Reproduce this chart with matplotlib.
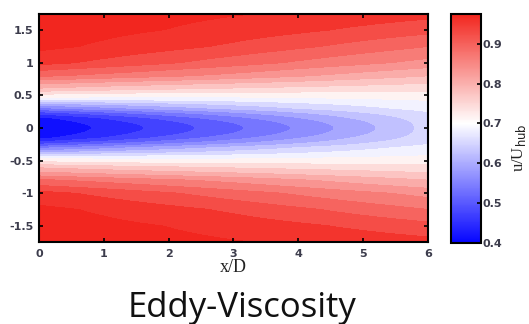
import numpy as np
import matplotlib
matplotlib.use("Agg")
import matplotlib.pyplot as plt
from matplotlib.colors import LinearSegmentedColormap

# u/U_hub: one row per x/D station, columns at |y/D| = y_read
x_read = [0, 1, 2, 3, 4, 5, 6]
y_read = [0, 0.15, 0.3, 0.45, 0.6, 0.8, 1.0, 1.25, 1.5, 1.75]
u_x0 = [0.400, 0.420, 0.540, 0.690, 0.785, 0.885, 0.950, 0.978, 0.985, 0.990]
u_x1 = [0.437, 0.460, 0.567, 0.686, 0.772, 0.870, 0.932, 0.965, 0.978, 0.985]
u_x2 = [0.474, 0.500, 0.593, 0.686, 0.762, 0.855, 0.913, 0.950, 0.969, 0.979]
u_x3 = [0.513, 0.538, 0.617, 0.690, 0.755, 0.840, 0.894, 0.934, 0.958, 0.972]
u_x4 = [0.555, 0.577, 0.640, 0.695, 0.749, 0.823, 0.875, 0.916, 0.946, 0.965]
u_x5 = [0.600, 0.617, 0.661, 0.700, 0.744, 0.806, 0.857, 0.898, 0.933, 0.958]
u_x6 = [0.650, 0.655, 0.680, 0.705, 0.740, 0.790, 0.840, 0.880, 0.920, 0.950]

table = np.array([u_x0, u_x1, u_x2, u_x3, u_x4, u_x5, u_x6])

x = np.linspace(0, 6, 400)
y = np.linspace(-1.75, 1.75, 400)
# fill the field: in y through y^2 (round ends on the centreline), then in x
prof = np.array([np.interp(y**2, np.array(y_read)**2, row) for row in table])
U = np.array([np.interp(x, x_read, prof[:, j]) for j in range(len(y))])
X, Y = np.meshgrid(x, y)

vmin, vmax = 0.4, 0.975
wpos = (0.70 - vmin) / (vmax - vmin)
cmap = LinearSegmentedColormap.from_list(
    "bwr2", [(0, (0.02, 0.02, 1)), (wpos, (1, 1, 1)), (1, (0.95, 0.15, 0.12))])

fig = plt.figure(figsize=(5.29, 3.24), dpi=100)
ax = fig.add_axes([0.0737, 0.253, 0.735, 0.704])
levels = np.arange(0.4, 0.99, 0.03)
ax.contourf(X, Y, U, levels=levels, cmap=cmap, vmin=vmin, vmax=vmax, extend="both")
ax.set_xlim(0, 6)
ax.set_ylim(-1.75, 1.75)
ax.set_xticks([0, 1, 2, 3, 4, 5, 6])
ax.set_yticks([-1.5, -1, -0.5, 0, 0.5, 1, 1.5])
ax.set_yticklabels(["-1.5", "-1", "-0.5", "0", "0.5", "1", "1.5"])
ax.tick_params(direction="in", top=True, right=True, length=3, width=1.2,
               labelsize=8, labelcolor="#3c3c4c")
ax.tick_params(axis="x", pad=5)
ax.tick_params(axis="y", pad=4)
for lab in ax.get_xticklabels() + ax.get_yticklabels():
    lab.set_fontweight("bold")
for s in ax.spines.values():
    s.set_linewidth(1.5)
ax.set_xlabel("x/D", family="Liberation Serif", fontsize=13, labelpad=0, color="#222")

cax = fig.add_axes([0.8526, 0.25, 0.0567, 0.707])
sm = plt.cm.ScalarMappable(cmap=cmap, norm=plt.Normalize(vmin, vmax))
cb = fig.colorbar(sm, cax=cax)
cb.set_ticks([0.4, 0.5, 0.6, 0.7, 0.8, 0.9])
cax.tick_params(direction="in", length=3, width=1.2, labelsize=8,
                labelcolor="#3c3c4c", pad=1)
for lab in cax.get_yticklabels():
    lab.set_fontweight("bold")
cb.outline.set_linewidth(1.5)
fig.text(510 / 529, 0.543, r"u/U$_{\mathrm{hub}}$", family="Liberation Serif",
         fontsize=12, rotation=90, ha="left", va="center", color="#222")

fig.text(0.457, 0.022, "Eddy-Viscosity", family="Open Sans", fontsize=25,
         ha="center", va="baseline", color="#111")

fig.savefig("out.png", dpi=100)
